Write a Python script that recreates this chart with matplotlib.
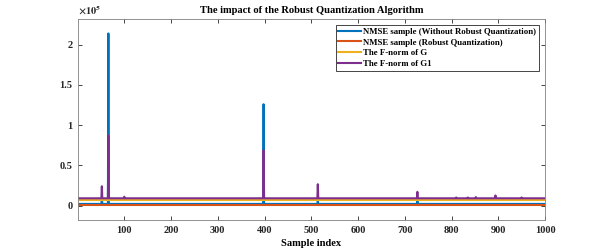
import matplotlib
matplotlib.use('Agg')
import matplotlib.pyplot as plt
import numpy as np

plt.rcParams['font.family'] = 'Liberation Serif'
plt.rcParams['font.weight'] = 'bold'
plt.rcParams['mathtext.fontset'] = 'stix'

# sample index 1..1000
n_samples = 1000

# baseline levels
base_nmse = 2000
base_robust = 200
base_fnorm_g = 7000
base_fnorm_g1 = 9000

# spikes: (sample index, value)
nmse_spikes = [(52, 10000), (66, 214000), (398, 126000), (514, 6000), (727, 6000)]
g1_spikes = [(52, 24000), (66, 87000), (100, 11000), (398, 69000), (514, 26500),
             (727, 17000), (810, 10000), (835, 10000), (852, 10500), (894, 12500),
             (950, 10000)]

x = np.arange(1, n_samples + 1)
nmse = np.full(n_samples, base_nmse, dtype=float)
for i, v in nmse_spikes:
    nmse[i - 1] = v
robust = np.full(n_samples, base_robust, dtype=float)
fnorm_g = np.full(n_samples, base_fnorm_g, dtype=float)
fnorm_g1 = np.full(n_samples, base_fnorm_g1, dtype=float)
for i, v in g1_spikes:
    fnorm_g1[i - 1] = v

fig = plt.figure(figsize=(6.02, 2.49), dpi=100)
ax = fig.add_axes([78 / 602, 1 - 220 / 249, 467 / 602, 201 / 249])

ax.plot(x, nmse, color='#0072BD', lw=1.5, label='NMSE sample (Without Robust Quantization)')
ax.plot(x, robust, color='#D95319', lw=1.5, label='NMSE sample (Robust Quantization)')
ax.plot(x, fnorm_g, color='#EDB120', lw=1.5, label='The F-norm of G')
ax.plot(x, fnorm_g1, color='#7E2F8E', lw=1.5, label='The F-norm of G1')

ax.set_xlim(1, 1000)
ax.set_ylim(-18000, 232000)
ax.set_xticks(np.arange(100, 1001, 100))
ax.set_yticks([0, 50000, 100000, 150000, 200000])
ax.set_yticklabels(['0', '0.5', '1', '1.5', '2'])
ax.tick_params(direction='in', length=3, width=0.6, top=True, right=True,
               labelsize=7.5, colors='#262626', pad=4)
for s in ax.spines.values():
    s.set_color('#808080')
    s.set_linewidth(0.6)

ax.text(0.0, 1.01, r'$\times 10^5$', transform=ax.transAxes, fontsize=7.5,
        ha='left', va='bottom', color='#262626')
ax.set_title('The impact of the Robust Quantization Algorithm', fontsize=7.6,
             fontweight='bold', pad=4)
ax.set_xlabel('Sample index', fontsize=7.6, fontweight='bold', labelpad=3)

leg = ax.legend(loc='upper right', bbox_to_anchor=(0.987, 0.970), fontsize=6.3,
                handlelength=2.6, labelspacing=0.3, borderpad=0.3,
                handletextpad=0.25, borderaxespad=0, fancybox=False, framealpha=1)
leg.get_frame().set_edgecolor('#262626')
leg.get_frame().set_linewidth(0.6)

plt.savefig('out.png', dpi=100)
